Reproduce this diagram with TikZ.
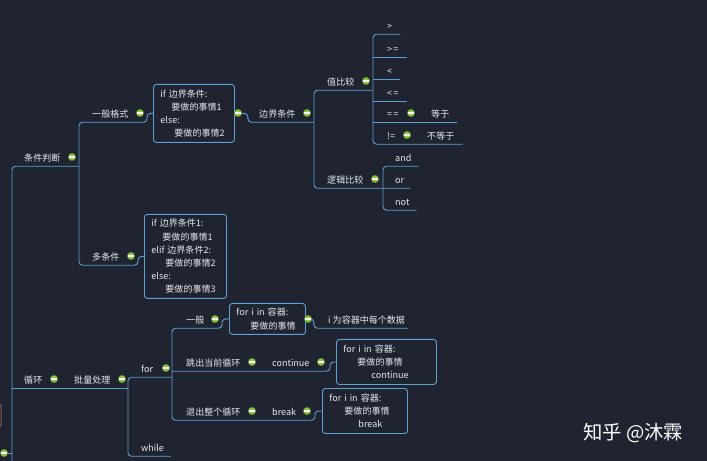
\documentclass[tikz,border=0pt]{standalone}
\usepackage{fontspec}
\setmainfont{Noto Sans CJK SC}
\usetikzlibrary{calc}
\definecolor{bgc}{HTML}{1F2430}
\definecolor{linec}{HTML}{5E9FD4}
\definecolor{txtc}{HTML}{E6EAEF}
\definecolor{foldc}{HTML}{8CC641}
\definecolor{foldd}{HTML}{5B8A2A}
\definecolor{rootc}{HTML}{8A5A52}
\newlength\pxl
\setlength\pxl{0.03cm}
\newcommand\mapfont{\fontsize{7.7pt}{11.3pt}\selectfont}

\begin{document}
\begin{tikzpicture}[x=0.03cm, y=-0.03cm,
  topic/.style={text=txtc, font=\mapfont, anchor=west, inner sep=0pt,
    minimum height=18\pxl, text height=0.85em, text depth=0.15em},
  box/.style={draw=linec, line width=0.8pt, rounded corners=2.5pt, fill=bgc,
    text=txtc, font=\mapfont, anchor=north west, align=left,
    inner xsep=7\pxl, inner ysep=0pt},
  link/.style={draw=linec, line width=0.8pt, rounded corners=3pt},
  fold/.style={circle, fill=foldc, draw=foldd, line width=0.4pt,
    minimum size=7.5\pxl, inner sep=0pt,
    path picture={\draw[white, line width=0.9pt]
      ([xshift=-2.3pt]path picture bounding box.center) --
      ([xshift=2.3pt]path picture bounding box.center);}}]
\useasboundingbox (0,0) rectangle (707,461);
\fill[bgc] (0,0) rectangle (707,461);

% spines
\coordinate (s0) at (12,0);
\coordinate (s1) at (79,0);
\coordinate (s2) at (314,0);
\coordinate (s3) at (373,0);
\coordinate (s4) at (383,0);
\coordinate (s5) at (128,0);
\coordinate (s6) at (172,0);
\coordinate (s0b) at (12,470);

\node[draw=rootc, line width=0.8pt, rounded corners=3pt, minimum width=60\pxl,
  minimum height=25\pxl, anchor=east] (root) at (1.5,415.5) {};

% 条件判断
\node[topic] (tjpd) at (24,157) {条件判断};
\node[topic] (ybgs) at (92,113) {一般格式};
\node[box, text width=67\pxl, minimum height=58\pxl] (gs1) at (153,84)
  {if 边界条件:\\\hspace*{11\pxl}要做的事情1\\else:\\\hspace*{14\pxl}要做的事情2};
\node[topic] (dtj) at (92,256) {多条件};
\node[box, text width=68\pxl, minimum height=84\pxl] (dc) at (144,214)
  {if 边界条件1:\\\hspace*{11\pxl}要做的事情1\\elif 边界条件2:\\\hspace*{14\pxl}要做的事情2\\else:\\\hspace*{14\pxl}要做的事情3};
\node[topic] (bjtj) at (259,113) {边界条件};
\node[topic] (zbj) at (327,81) {值比较};
\node[topic] (gt) at (387,25) {>};
\node[topic] (ge) at (387,48) {>\kern1pt=};
\node[topic] (lt) at (387,70) {<};
\node[topic] (le) at (387,92) {<\kern1pt=};
\node[topic] (eq) at (387,113) {=\kern1pt=};
\node[topic] (dy) at (431,113) {等于};
\node[topic] (ne) at (387,135) {!=};
\node[topic] (bdy) at (427,135) {不等于};
\node[topic] (ljbj) at (327,179) {逻辑比较};
\node[topic] (lgand) at (395,157) {and};
\node[topic] (lgor) at (395,179) {or};
\node[topic] (lgnot) at (395,201) {not};

% 循环
\node[topic] (xh) at (24,379) {循环};
\node[topic] (plcl) at (74,379) {批量处理};
\node[topic] (lpfor) at (141,368) {for};
\node[topic] (lpwhile) at (141,447) {while};
\node[topic] (yb) at (186,319) {一般};
\node[box, text width=62\pxl, minimum height=31\pxl] (bx3) at (229,303)
  {for i in 容器:\\\hspace*{14\pxl}要做的事情};
\node[topic] (wsj) at (328,319) {i 为容器中每个数据};
\node[topic] (tcdq) at (186,362) {跳出当前循环};
\node[topic] (cont) at (272,362) {continue};
\node[box, text width=86\pxl, minimum height=45\pxl] (bx4) at (336,339)
  {for i in 容器:\\\hspace*{14\pxl}要做的事情\\\hspace*{28\pxl}continue};
\node[topic] (tczg) at (186,411) {退出整个循环};
\node[topic] (brk) at (272,411) {break};
\node[box, text width=71\pxl, minimum height=45\pxl] (bx5) at (322,388)
  {for i in 容器:\\\hspace*{15\pxl}要做的事情\\\hspace*{29\pxl}break};

% links
\draw[link] (s0b) |- (s1 |- tjpd.south);
\draw[link] (gs1.west) -- ++(-6,0) |- (s1 |- ybgs.south) -- (s1 |- dtj.south)
  -| ([xshift=-6\pxl]dc.west) -- (dc.west);
\draw[link] (gs1.east) -- ++(13,0) |- (s2 |- bjtj.south);
\draw[link] (s3 |- zbj.south) -| (s2 |- ljbj.south) -- ([xshift=6\pxl]lgor.south east);
\draw[link] ([xshift=8\pxl]gt.south east) -- (s3 |- gt.south) -- (s3 |- ne.south)
  -- ([xshift=8\pxl]bdy.south east);
\foreach \n in {ge,lt,le}
  \draw[link] (s3 |- \n.south) -- ([xshift=8\pxl]\n.south east);
\draw[link] (s3 |- eq.south) -- ([xshift=7\pxl]dy.south east);
\draw[link] ([xshift=7\pxl]lgand.south east) -- (s4 |- lgand.south) -- (s4 |- lgnot.south)
  -- ([xshift=7\pxl]lgnot.south east);
\draw[link] (s0 |- xh.south) -- (s5 |- plcl.south);
\draw[link] (s6 |- lpfor.south) -- (s5 |- lpfor.south) -- (s5 |- lpwhile.south)
  -- ([xshift=7\pxl]lpwhile.south east);
\draw[link] (bx3.west) -- ++(-7,0) |- (s6 |- yb.south) -- (s6 |- tczg.south)
  -| ([xshift=-7\pxl]bx5.west) -- (bx5.west);
\draw[link] (s6 |- tcdq.south) -| ([xshift=-6\pxl]bx4.west) -- (bx4.west);
\draw[link] (bx3.east) -- ++(8,0) |- ([xshift=3\pxl]wsj.south east);
\node[fold] (frt) at (4,453) {};
\draw[link] (frt) -- (s0 |- frt);

% folds
\node[fold] at (72,157) {};
\node[fold] at (140,113) {};
\node[fold] at (131,256) {};
\node[fold] at (238,113) {};
\node[fold] at (307,113) {};
\node[fold] at (366,81) {};
\node[fold] at (411,113) {};
\node[fold] at (407,135) {};
\node[fold] at (375,179) {};
\node[fold] at (54,379) {};
\node[fold] at (122,379) {};
\node[fold] at (166,368) {};
\node[fold] at (215,319) {};
\node[fold] at (308,319) {};
\node[fold] at (252,362) {};
\node[fold] at (321,362) {};
\node[fold] at (252,411) {};
\node[fold] at (307,411) {};

\node[text=white, font=\fontsize{16.5pt}{18pt}\selectfont, anchor=west] (wm) at (579,433) {知乎 @沐霖};
\end{tikzpicture}
\end{document}
